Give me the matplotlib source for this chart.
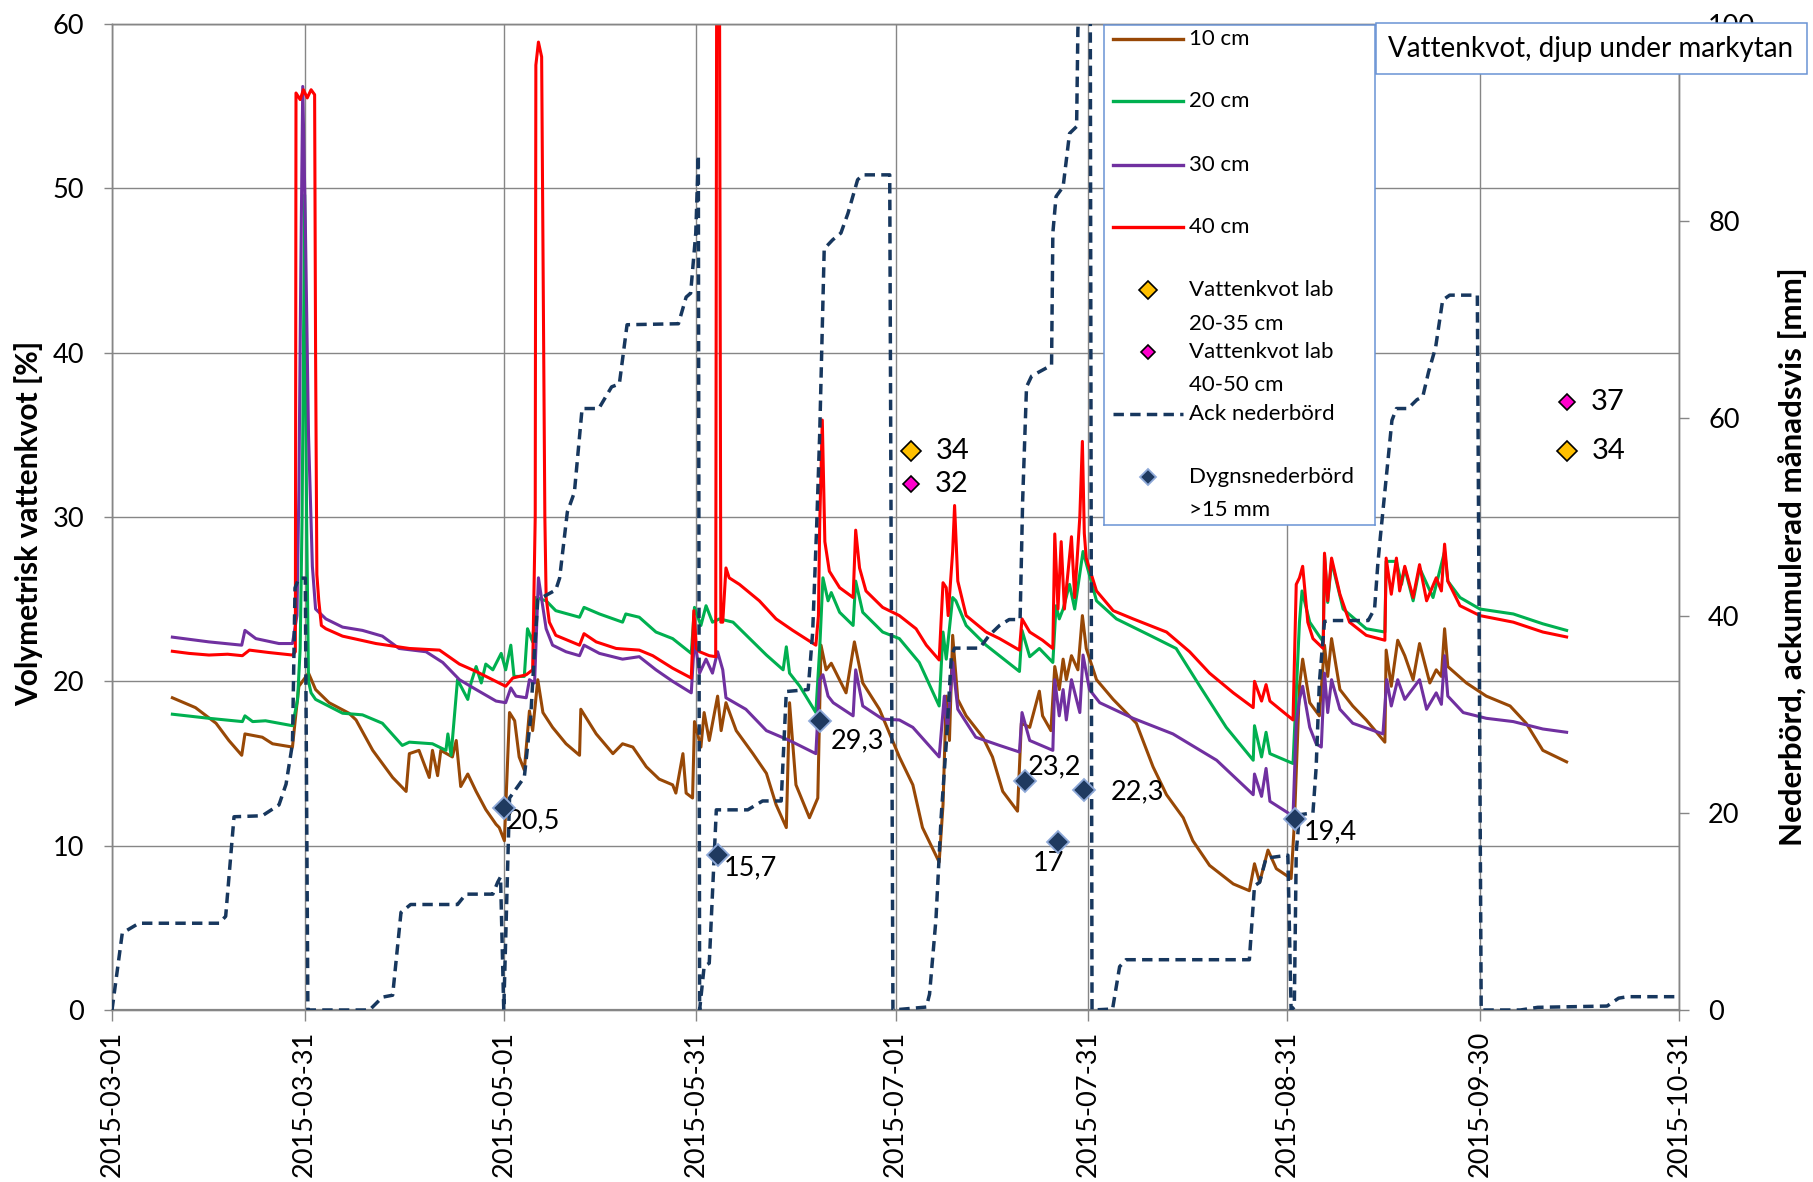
import numpy as np
import matplotlib
matplotlib.use("Agg")
import matplotlib.pyplot as plt
import matplotlib.dates as mdates
from matplotlib.patches import Rectangle

plt.rcParams['font.family'] = ['Lato', 'DejaVu Sans']

START = np.datetime64('2015-03-01')

# soil moisture [%], x = days since 2015-03-01
d10 = [9.4, 13.0, 16.2, 18.2, 20.2, 20.7, 23.4, 25.0, 28.1, 28.6, 29.1, 30.6, 31.7, 33.8, 36.9, 38.0,
       40.6, 43.7, 45.8, 46.3, 47.8, 49.4, 49.9, 50.7, 51.2, 53.0, 53.6, 54.3, 55.4, 56.7, 58.2, 59.8,
       60.3, 61.1, 61.9, 62.7, 63.4, 64.2, 65.0, 65.5, 66.3, 67.1, 68.6, 70.7, 72.8, 73.0, 75.4, 78.0,
       79.5, 81.1, 83.2, 85.2, 87.3, 87.8, 88.9, 89.4, 90.4, 90.7, 91.7, 92.2, 93.0, 94.3, 94.85, 95.6,
       97.2, 99.8, 101.9, 103.4, 105.0, 105.5, 106.5, 108.6, 109.9, 110.4, 111.2, 112.0, 114.3, 115.6,
       116.9, 119.5, 122.6, 124.7, 126.2, 127.8, 128.8, 129.4, 129.9, 130.4, 130.9, 131.7, 133.0, 135.6,
       137.1, 138.7, 141.0, 141.6, 142.9, 144.4, 144.9, 146.2, 146.8, 147.5, 148.1, 148.6, 149.4, 150.4,
       151.1, 151.7, 153.3, 155.9, 157.9, 159.5, 162.1, 164.2, 166.8, 168.3, 170.9, 174.6, 177.1, 177.9,
       178.7, 180.0, 181.3, 183.6, 184.1, 184.9, 185.4, 186.5, 188.0, 188.8, 189.3, 189.9, 191.2, 193.2,
       195.3, 198.2, 198.4, 199.2, 200.2, 201.3, 202.6, 203.6, 205.2, 206.2, 207.0, 207.5, 208.0, 210.9,
       214.0, 217.7, 220.2, 222.8, 226.5]
v10 = [19.0, 18.4, 17.45, 16.4, 15.5, 16.8, 16.6, 16.2, 16.0, 17.9, 19.7, 20.5, 19.5, 18.7, 18.06, 17.65,
       15.8, 14.15, 13.3, 15.6, 15.8, 14.15, 15.8, 14.26, 15.8, 15.4, 16.4, 13.6, 14.36, 13.3, 12.2, 11.3,
       11.1, 10.3, 18.1, 17.6, 15.4, 14.6, 18.2, 17.0, 20.1, 18.1, 17.2, 16.2, 15.5, 18.3, 16.8, 15.6,
       16.2, 16.0, 14.8, 14.05, 13.7, 13.2, 15.6, 13.2, 12.9, 17.55, 16.0, 18.1, 16.4, 19.1, 17.0, 18.7,
       17.0, 15.6, 14.4, 12.5, 11.1, 18.7, 13.7, 11.7, 12.9, 22.2, 20.7, 21.1, 19.3, 22.4,
       19.9, 18.3, 15.4, 13.7, 11.1, 9.8, 9.0, 12.5, 19.1, 16.4, 22.8, 18.9, 17.9, 16.6,
       15.4, 13.3, 12.1, 17.45, 17.2, 19.4, 17.9, 17.0, 20.9, 19.5, 21.35, 20.1, 21.56, 20.7,
       24.0, 22.0, 20.1, 18.9, 18.1, 17.45, 14.8, 13.1, 11.7, 10.3, 8.8, 7.67, 7.26, 8.9,
       7.77, 9.73, 8.6, 8.0, 11.3, 19.7, 21.35, 18.7, 17.9, 22.2, 20.3, 22.6, 19.5, 18.5,
       17.65, 16.3, 21.9, 19.7, 22.5, 21.56, 20.1, 22.3, 19.9, 20.7, 20.3, 23.2, 20.9, 19.9,
       19.1, 18.5, 17.45, 15.8, 15.1]

d20 = [9.4, 15.1, 20.3, 20.7, 21.9, 23.9, 28.1, 28.9, 29.3, 29.6, 30.0, 30.3, 30.6, 31.0, 31.7, 35.9,
       39.0, 42.1, 45.2, 46.3, 49.9, 52.0, 52.3, 52.8, 53.8, 54.6, 55.4, 55.9, 56.7, 57.5, 58.2, 59.3,
       60.6, 61.3, 62.1, 62.6, 64.2, 64.7, 65.5, 66.0, 67.6, 69.1, 72.8, 73.5, 75.9, 79.5, 80.0, 82.1,
       84.7, 87.3, 90.2, 90.7, 91.7, 92.5, 93.5, 94.6, 96.7, 99.3, 101.9, 104.5, 105.0, 105.5, 107.1,
       109.6, 110.2, 110.7, 111.5, 112.0, 113.3, 115.4, 115.8, 116.9, 120.0, 122.6, 125.7, 128.8, 129.4,
       129.9, 130.9, 131.4, 133.0, 136.1, 141.3, 141.7, 142.9, 144.4, 146.5, 147.0, 147.5, 148.1, 149.1,
       149.9, 151.2, 153.3, 156.4, 161.6, 165.7, 169.4, 173.5, 177.7, 177.9, 179.0, 179.7, 180.3, 183.9,
       184.9, 185.3, 186.5, 188.6, 188.8, 189.3, 189.9, 191.7, 195.3, 198.2, 198.4, 200.0, 200.8, 201.3,
       202.6, 203.6, 205.7, 207.5, 208.0, 209.9, 213.0, 218.2, 222.8, 226.5]
v20 = [18.0, 17.75, 17.55, 17.9, 17.55, 17.6, 17.3, 18.9, 22.0, 30.0, 49.6, 30.0, 20.0, 19.3, 18.9, 18.06,
       17.96, 17.45, 16.1, 16.3, 16.2, 15.8, 16.8, 15.5, 20.1, 19.5, 18.9, 19.9, 20.9, 19.9, 21.05, 20.7,
       21.7, 20.7, 22.2, 20.3, 20.3, 23.2, 22.4, 25.1, 24.9, 24.3, 23.9, 24.5, 24.1, 23.6, 24.1, 23.9,
       23.0, 22.6, 21.7, 24.5, 23.4, 24.6, 23.6, 23.8, 23.6, 22.6, 21.6, 20.7, 22.1, 20.5, 19.7,
       18.1, 22.0, 26.3, 24.9, 25.4, 24.2, 23.4, 26.1, 24.2, 23.0, 22.6, 21.15, 18.5, 23.0,
       21.35, 25.1, 24.9, 23.4, 22.2, 20.6, 23.1, 21.5, 22.0, 21.15, 24.6, 23.8, 24.4, 25.9,
       24.4, 27.9, 24.9, 23.8, 22.8, 22.0, 19.7, 17.2, 15.2, 17.3, 15.4, 16.9, 15.6, 15.0,
       23.6, 25.5, 23.6, 22.4, 27.7, 24.8, 27.3, 24.4, 23.2, 23.0, 27.3, 27.3, 25.9, 26.9,
       24.9, 26.9, 25.1, 27.9, 26.1, 25.1, 24.4, 24.1, 23.5, 23.1]

d30 = [9.4, 15.1, 20.2, 20.7, 22.4, 26.0, 28.1, 28.8, 29.1, 29.4, 29.7, 30.1, 30.6, 31.2, 31.7, 33.3,
       35.9, 39.0, 42.1, 44.7, 48.9, 51.5, 54.1, 56.7, 59.8, 61.3, 62.1, 62.9, 64.5, 65.0, 65.8, 66.4,
       67.6, 68.6, 70.7, 72.8, 73.5, 75.9, 79.5, 82.1, 84.7, 87.3, 90.2, 90.7, 91.5, 92.5, 93.5, 94.3,
       95.1, 95.6, 98.7, 101.9, 105.5, 109.6, 110.2, 110.7, 111.5, 112.3, 115.4, 115.8, 116.9, 120.0,
       122.6, 124.7, 128.8, 129.6, 130.1, 130.9, 131.7, 134.5, 138.2, 141.3, 141.7, 142.9, 146.5, 146.8,
       147.5, 148.1, 148.6, 149.4, 150.7, 151.2, 152.2, 153.8, 159.0, 165.2, 172.0, 177.7, 177.9, 179.0,
       179.7, 180.3, 183.9, 184.4, 184.9, 185.4, 186.5, 187.5, 188.3, 188.8, 189.3, 189.9, 191.2, 193.2,
       197.9, 198.5, 199.2, 200.2, 201.3, 203.6, 204.7, 206.2, 207.0, 207.5, 208.0, 210.4, 214.0, 218.2,
       222.8, 226.5]
v30 = [22.69, 22.4, 22.2, 23.1, 22.6, 22.3, 22.3, 24.0, 31.6, 45.0, 56.2, 48.0, 35.0, 27.0, 24.4, 23.8,
       23.3, 23.1, 22.75, 22.0, 21.8, 21.15, 20.1, 19.5, 18.8, 18.7, 19.6, 19.1, 19.0, 20.1, 19.9, 26.3,
       23.2, 22.2, 21.8, 21.56, 22.2, 21.7, 21.35, 21.5, 20.7, 20.0, 19.3, 22.6, 20.5, 21.35, 20.5, 21.8,
       20.7, 19.0, 18.3, 17.0, 16.4, 15.6, 20.1, 20.4, 19.1, 18.7, 17.9, 20.7, 18.5, 17.7,
       17.65, 17.2, 15.4, 19.1, 17.0, 21.15, 18.3, 16.6, 16.1, 15.7, 18.1, 16.4, 15.8, 20.1,
       17.9, 19.5, 17.65, 20.1, 18.1, 21.6, 19.5, 18.7, 17.75, 16.8, 15.2, 13.1, 14.36, 13.0,
       14.7, 12.7, 11.8, 17.45, 18.9, 19.7, 17.2, 16.2, 16.0, 20.5, 18.1, 20.1, 18.3, 17.45,
       16.8, 20.1, 18.5, 20.1, 18.9, 20.1, 18.3, 19.3, 18.6, 21.56, 19.1, 18.1, 17.75, 17.55,
       17.1, 16.9]

d40 = [9.4, 12.0, 15.1, 18.0, 20.3, 21.4, 24.5, 28.1, 28.55, 28.65, 29.3, 29.8, 30.4, 31.0, 31.55, 31.7,
       31.9, 32.2, 32.6, 33.3, 35.9, 41.1, 46.3, 51.0, 54.1, 56.7, 60.3, 61.3, 62.4, 64.5, 65.5, 65.9,
       66.0, 66.4, 66.9, 67.4, 67.6, 68.1, 69.1, 72.8, 73.5, 75.4, 78.5, 82.1, 84.2, 87.3, 90.2, 90.6,
       91.0, 91.5, 93.0, 94.0, 94.15, 94.6, 94.8, 95.1, 95.6, 96.1, 97.7, 100.8, 103.4, 106.0, 109.6,
       110.0, 110.2, 110.6, 111.0, 111.7, 113.3, 115.4, 115.8, 116.4, 117.4, 120.0, 122.6, 125.2, 126.8,
       128.8, 129.4, 129.9, 130.2, 130.9, 131.2, 131.7, 133.0, 136.1, 138.2, 141.3, 141.7, 142.9, 144.9,
       146.5, 146.8, 147.3, 147.8, 148.3, 149.4, 149.9, 150.7, 151.1, 151.4, 151.7, 153.3, 155.9, 159.0,
       164.2, 167.8, 170.9, 174.6, 177.7, 177.9, 179.0, 179.7, 180.3, 183.9, 184.4, 184.9, 185.4, 186.2,
       187.0, 188.6, 188.8, 189.3, 189.9, 191.2, 192.7, 195.3, 198.2, 198.4, 199.2, 200.0, 200.5, 201.3,
       202.6, 203.6, 204.7, 206.2, 207.0, 207.5, 208.0, 209.9, 213.0, 218.2, 222.8, 226.5]
v40 = [21.83, 21.7, 21.6, 21.65, 21.56, 21.9, 21.75, 21.6, 21.8, 55.8, 55.4, 56.0, 55.5, 56.0, 55.7, 40.0,
       26.5, 24.9, 23.4, 23.2, 22.75, 22.3, 22.0, 21.9, 21.05, 20.6, 19.9, 19.7, 20.2, 20.4, 20.7, 30.0,
       57.5, 58.9, 58.0, 30.0, 25.1, 23.6, 22.8, 22.2, 22.9, 22.4, 22.0, 21.9, 21.56, 20.8, 20.2, 24.3,
       22.0, 21.8, 21.56, 21.5, 62.0, 62.0, 23.6, 23.6, 26.9, 26.3, 25.9, 24.9, 23.8, 23.1, 22.2,
       24.0, 29.6, 35.9, 28.5, 26.7, 25.7, 25.1, 29.2, 26.9, 25.5, 24.5, 24.0, 23.2, 22.2,
       21.3, 26.0, 25.7, 24.0, 27.9, 30.7, 26.1, 24.0, 23.0, 22.6, 21.9, 23.8, 23.0, 22.5,
       22.0, 28.97, 24.4, 28.5, 24.4, 28.8, 25.1, 30.0, 34.6, 29.0, 27.5, 25.5, 24.3, 23.8,
       23.0, 21.8, 20.5, 19.3, 18.4, 20.0, 18.8, 19.8, 18.8, 17.65, 25.9, 26.3, 27.0, 23.6,
       22.6, 22.0, 27.8, 24.9, 27.5, 25.3, 23.6, 22.8, 22.5, 27.5, 25.3, 27.5, 25.5, 27.0,
       25.1, 27.1, 24.9, 26.3, 25.5, 28.35, 26.1, 24.6, 24.0, 23.6, 23.0, 22.7]

# accumulated precipitation per month [mm]
d_ack = [0, 1.6, 4.2, 16.7, 17.7, 19.0, 23.4, 26.0, 27.1, 28.1, 28.5, 29.1, 30.1,
         30.5, 40.1, 42.1, 43.7, 45.0, 46.5, 53.8, 55.1, 59.3, 60.05, 60.5,
         61.0, 61.9, 64.2, 65.2, 65.8, 66.3, 69.1, 69.7, 70.9, 72.0, 73.2, 75.8, 77.8, 79.0, 80.2, 88.2,
         89.4, 90.1, 90.9, 91.3,
         91.5, 92.2, 93.0, 94.1, 99.0, 101.3, 104.2, 105.0, 108.4, 109.1, 109.7, 110.2, 110.9, 112.2,
         113.5, 114.6, 116.1, 116.9, 121.1,
         121.6, 126.8, 127.3, 128.3, 129.1, 129.9, 130.7, 131.2, 135.1, 136.6, 138.2, 139.7, 141.4,
         141.8, 142.4, 143.2, 146.3, 146.5, 147.0, 148.1, 149.1, 150.2, 150.4, 151.3, 152.3,
         152.6, 155.8, 156.9, 157.9, 177.1, 177.9, 178.7, 179.7, 183.1,
         183.6, 184.1, 184.4, 184.9, 187.0, 187.5, 188.0, 188.8, 189.6, 195.6, 196.6, 197.1, 197.5,
         199.3, 200.0, 201.8, 203.2, 204.1, 205.0, 206.1, 207.2, 208.3, 212.6,
         213.2, 219.3, 222.0, 232.8, 234.6, 236.0, 244.0]
v_ack = [0, 7.8, 8.8, 8.8, 9.5, 19.6, 19.7, 20.8, 22.9, 27.0, 42.8, 43.8, 43.8,
         0, 0, 1.3, 1.5, 9.9, 10.7, 10.7, 11.75, 11.75, 12.95, 13.5,
         0, 21.5, 23.6, 29.75, 36.6, 41.6, 42.6, 43.8, 50.5, 52.5, 61.0, 61.0, 63.2, 63.5, 69.5, 69.6,
         72.3, 72.7, 78.8, 86.7,
         0, 4.4, 4.75, 20.3, 20.3, 21.2, 21.2, 32.3, 32.5, 38.3, 48.6, 58.5, 77.2, 78.1,
         78.8, 80.8, 84.2, 84.7, 84.7,
         0, 0.3, 1.6, 9.2, 19.5, 27.0, 35.9, 36.7, 36.7, 38.0, 39.0, 39.6, 39.6,
         51.7, 63.2, 64.3, 65.4, 78.8, 82.5, 83.5, 88.9, 89.6, 99.4, 111.9, 112.5,
         0, 0.1, 4.4, 5.1, 5.1, 12.6, 12.95, 15.4, 15.7,
         0, 0.3, 16.0, 19.8, 20.0, 24.6, 33.2, 39.4, 39.5, 39.5, 40.7, 45.2, 48.0,
         59.8, 61.0, 61.0, 61.9, 62.2, 64.7, 67.2, 72.0, 72.5, 72.5,
         0, 0, 0.27, 0.4, 1.2, 1.35, 1.35]

# daily precipitation above 15 mm
d_dygn = [61.1, 94.3, 110.3, 142.2, 147.3, 151.3, 184.2]
v_dygn = [20.5, 15.7, 29.3, 23.2, 17.0, 22.3, 19.4]

# lab samples, volumetric water content
d_lab = [124.4, 226.5]
v_lab_20_35 = [34, 34]
v_lab_40_50 = [32, 37]

tick_dates = ['2015-03-01', '2015-03-31', '2015-05-01', '2015-05-31', '2015-07-01',
              '2015-07-31', '2015-08-31', '2015-09-30', '2015-10-31']


def to_dates(days):
    minutes = np.round(np.asarray(days, dtype=float) * 1440).astype(np.int64)
    return START + minutes.astype('timedelta64[m]')


def fmt_mm(v):
    return f"{v:g}".replace('.', ',')


W, H = 1813, 1182
fig = plt.figure(figsize=(W / 100, H / 100), dpi=100)
ax = fig.add_axes([112 / W, 1 - 1010 / H, (1679 - 112) / W, (1010 - 24) / H])
ax2 = ax.twinx()

GRID = '#868686'
C10, C20, C30, C40 = '#984806', '#00B050', '#7030A0', '#FF0000'
CACK = '#17375E'

lw = 2.2
ax.plot(to_dates(d10), v10, color=C10, lw=lw, zorder=2)
ax.plot(to_dates(d20), v20, color=C20, lw=lw, zorder=2)
ax.plot(to_dates(d30), v30, color=C30, lw=lw, zorder=2)
ax.plot(to_dates(d40), v40, color=C40, lw=lw, zorder=2)

ax.plot(to_dates(d_lab), v_lab_20_35, ls='none', marker='D', ms=10.5, mfc='#FFC000', mec='black',
        mew=1.2, zorder=4)
ax.plot(to_dates(d_lab), v_lab_40_50, ls='none', marker='D', ms=8, mfc='#FF00CC', mec='black',
        mew=1.2, zorder=4)
for d, v in zip(d_lab, v_lab_20_35):
    ax.annotate(f"{v}", (to_dates([d])[0], v), xytext=(25, 0), textcoords='offset pixels',
                ha='left', va='center', fontsize=21)
for d, v in zip(d_lab, v_lab_40_50):
    ax.annotate(f"{v}", (to_dates([d])[0], v), xytext=(24, 0), textcoords='offset pixels',
                ha='left', va='center', fontsize=21)

ax2.plot(to_dates(d_ack), v_ack, color=CACK, lw=2.5, dashes=(3.0, 1.8), zorder=3)
ax2.plot(to_dates(d_dygn), v_dygn, ls='none', marker='D', ms=11, mfc='#1F3A60', mec='#8EA9D8',
         mew=1.3, zorder=5)
# label placement around each rain marker (pixels)
label_off = [(2, -13, 'left'), (6, -13, 'left'), (10, -20, 'left'), (3, 14, 'left'),
             (-9, -21, 'center'), (27, -2, 'left'), (9, -13, 'left')]
for d, v, (ox, oy, ha) in zip(d_dygn, v_dygn, label_off):
    ax2.annotate(fmt_mm(v), (to_dates([d])[0], v), xytext=(ox, oy), textcoords='offset pixels',
                 ha=ha, va='center', fontsize=19.5)

# axes, ticks, grid
ax.set_ylim(0, 60)
ax.set_yticks(range(0, 61, 10))
ax2.set_ylim(0, 100)
ax2.set_yticks(range(0, 101, 20))
ax.set_xlim(np.datetime64('2015-03-01'), np.datetime64('2015-10-31'))
ax.set_xticks(np.array(tick_dates, dtype='datetime64[D]'))
ax.xaxis.set_major_formatter(mdates.DateFormatter('%Y-%m-%d'))

ax.grid(True, color=GRID, lw=1.0)
ax.set_axisbelow(True)
for a in (ax, ax2):
    for s in a.spines.values():
        s.set_color(GRID)
        s.set_linewidth(1.0)
ax.spines['bottom'].set_linewidth(1.6)
ax.tick_params(axis='y', labelsize=19.5, length=6, width=1.0, color=GRID, pad=14)
ax.tick_params(axis='x', labelsize=19.5, length=8, width=1.0, color=GRID, pad=7, labelrotation=90)
ax2.tick_params(axis='y', labelsize=19.5, length=7, width=1.0, color=GRID, pad=14)

ax.set_ylabel('Volymetrisk vattenkvot [%]', fontsize=21.5, fontweight='bold')
ax.yaxis.label.set_va('center')
ax.yaxis.set_label_coords(-0.053, 0.494)
ax2.set_ylabel('Nederbörd, ackumulerad månadsvis [mm]', fontsize=22.5, fontweight='bold')
ax2.yaxis.label.set_va('center')
ax2.yaxis.set_label_coords(1.0725, 0.46)

# legend box
lax = fig.add_axes([1104 / W, 1 - 525 / H, 271 / W, 500 / H], zorder=4)
lax.set_xlim(0, 271)
lax.set_ylim(500, 0)
lax.set_xticks([])
lax.set_yticks([])
for s in lax.spines.values():
    s.set_color('#6A93D4')
    s.set_linewidth(1.1)

lfs = 16
tx = 85
rows = [(14, C10, '10 cm'), (76, C20, '20 cm'), (140, C30, '30 cm'), (202, C40, '40 cm')]
for y, c, txt in rows:
    lax.plot([9, 79], [y, y], color=c, lw=2.4)
    lax.text(tx, y, txt, fontsize=lfs, va='center')
lax.plot([44], [265], marker='D', ms=9, mfc='#FFC000', mec='black', mew=1.2)
lax.text(tx, 265, 'Vattenkvot lab', fontsize=lfs, va='center')
lax.text(tx, 299, '20-35 cm', fontsize=lfs, va='center')
lax.plot([44], [327], marker='D', ms=7, mfc='#FF00CC', mec='black', mew=1.2)
lax.text(tx, 327, 'Vattenkvot lab', fontsize=lfs, va='center')
lax.text(tx, 360, '40-50 cm', fontsize=lfs, va='center')
lax.plot([9, 79], [389, 389], color=CACK, lw=2.5, dashes=(3.0, 1.8))
lax.text(tx, 389, 'Ack nederbörd', fontsize=lfs, va='center')
lax.plot([44], [452], marker='D', ms=8, mfc='#1F3A60', mec='#8EA9D8', mew=1.3)
lax.text(tx, 452, 'Dygnsnederbörd', fontsize=lfs, va='center')
lax.text(tx, 485, '>15 mm', fontsize=lfs, va='center')

# title box
fig.add_artist(Rectangle((1376 / W, 1 - 74 / H), 431 / W, 51 / H, transform=fig.transFigure,
                         facecolor='white', edgecolor='#6A93D4', lw=1.1, zorder=5))
fig.text(1591 / W, 1 - 49 / H, 'Vattenkvot, djup under markytan', ha='center', va='center',
         fontsize=20, zorder=6)

fig.savefig('out.png', dpi=100)
